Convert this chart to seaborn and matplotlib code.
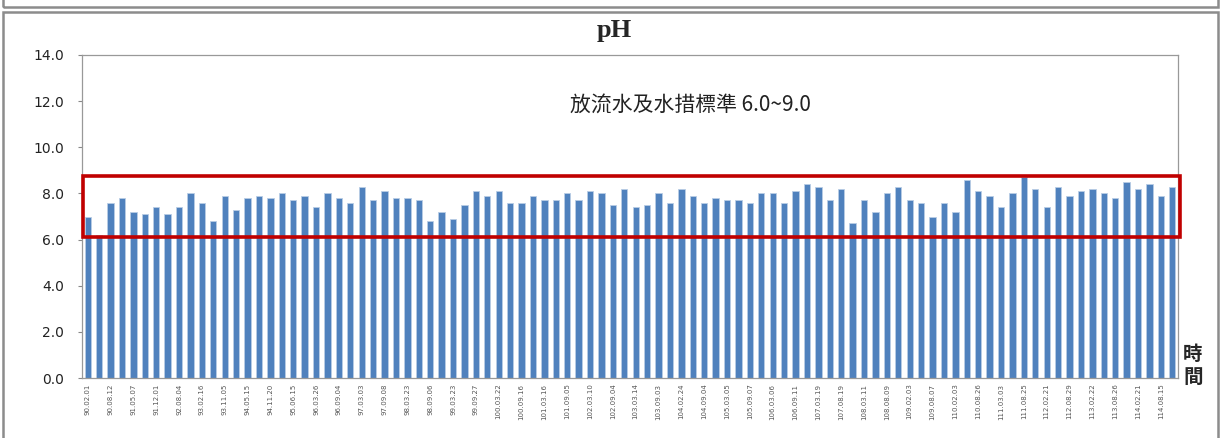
import numpy as np
import pandas as pd
import matplotlib
matplotlib.use('Agg')
import matplotlib.pyplot as plt
from matplotlib.patches import Rectangle
import matplotlib.transforms as mtransforms
import seaborn as sns

# pH per sampling, 96 samplings (every other one labelled)
ph_values = [7.0, 6.2, 7.6, 7.8, 7.2, 7.1, 7.4, 7.1, 7.4, 8.0,
             7.6, 6.8, 7.9, 7.3, 7.8, 7.9, 7.8, 8.0, 7.7, 7.9,
             7.4, 8.0, 7.8, 7.6, 8.3, 7.7, 8.1, 7.8, 7.8, 7.7,
             6.8, 7.2, 6.9, 7.5, 8.1, 7.9, 8.1, 7.6, 7.6, 7.9,
             7.7, 7.7, 8.0, 7.7, 8.1, 8.0, 7.5, 8.2, 7.4, 7.5,
             8.0, 7.6, 8.2, 7.9, 7.6, 7.8, 7.7, 7.7, 7.6, 8.0,
             8.0, 7.6, 8.1, 8.4, 8.3, 7.7, 8.2, 6.7, 7.7, 7.2,
             8.0, 8.3, 7.7, 7.6, 7.0, 7.6, 7.2, 8.6, 8.1, 7.9,
             7.4, 8.0, 8.7, 8.2, 7.4, 8.3, 7.9, 8.1, 8.2, 8.0,
             7.8, 8.5, 8.2, 8.4, 7.9, 8.3]

tick_labels = ['90.02.01', '90.08.12', '91.05.07', '91.12.01', '92.08.04', '93.02.16',
               '93.11.05', '94.05.15', '94.11.20', '95.06.15', '96.03.26', '96.09.04',
               '97.03.03', '97.09.08', '98.03.23', '98.09.06', '99.03.23', '99.09.27',
               '100.03.22', '100.09.16', '101.03.16', '101.09.05', '102.03.10', '102.09.04',
               '103.03.14', '103.09.03', '104.02.24', '104.09.04', '105.03.05', '105.09.07',
               '106.03.06', '106.09.11', '107.03.19', '107.08.19', '108.03.11', '108.08.09',
               '109.02.03', '109.08.07', '110.02.03', '110.08.26', '111.03.03', '111.08.25',
               '112.02.21', '112.08.29', '113.02.22', '113.08.26', '114.02.21', '114.08.15']

std_low, std_high = 6.1, 8.75

df = pd.DataFrame({'idx': np.arange(len(ph_values)), 'pH': ph_values})

sns.set_style('white')
plt.rcParams['font.family'] = ['DejaVu Sans']

fig = plt.figure(figsize=(12.21, 4.38), dpi=100)
ax = fig.add_axes([82 / 1221, 60 / 438, 1096 / 1221, 323 / 438])

sns.barplot(data=df, x='idx', y='pH', color='#4F81BD', width=0.55,
            edgecolor='#B9CDE5', linewidth=0.6, saturation=1, ax=ax)

ax.set_xlim(-0.5, len(ph_values) - 0.5)
ax.set_ylim(0, 14)
ax.set_yticks(np.arange(0, 14.1, 2))
ax.set_yticklabels([f'{v:.1f}' for v in np.arange(0, 14.1, 2)], fontsize=10, color='#222222')
ax.set_xticks(np.arange(0, len(ph_values), 2))
ax.set_xticklabels(tick_labels, rotation=90, fontsize=5, color='#555555')
ax.tick_params(axis='x', length=0, pad=4)
ax.tick_params(axis='y', length=3, width=0.8, color='#888888', pad=10, left=True)
ax.set_xlabel('')
ax.set_ylabel('')
for s in ax.spines.values():
    s.set_color('#999999')
    s.set_linewidth(0.9)

# standard range box
trans = mtransforms.blended_transform_factory(ax.transAxes, ax.transData)
ax.add_patch(Rectangle((0.001, std_low), 1.001, std_high - std_low, transform=trans,
                       fill=False, edgecolor='#C00000', linewidth=2.6, clip_on=False, zorder=5))

ax.text(0.555, 11.8, '放流水及水措標準 6.0~9.0', transform=trans, ha='center', va='center',
        fontsize=15, family=['Noto Sans CJK TC', 'DejaVu Sans'], color='#222222')

fig.text(614 / 1221, 1 - 31 / 438, 'pH', ha='center', va='center', fontsize=19,
         fontweight='bold', family=['Liberation Serif'])
fig.text(1193 / 1221, 1 - 366 / 438, '時\n間', ha='center', va='center', fontsize=14,
         fontweight='bold', family=['Noto Sans CJK TC'], linespacing=1.3)

# outer frames
fig.patches.append(Rectangle((3 / 1221, -0.02), 1215 / 1221, (438 - 12) / 438 + 0.02,
                             transform=fig.transFigure, fill=False, edgecolor='#8C8C8C', linewidth=1.8))
fig.patches.append(Rectangle((3 / 1221, 1 - 7 / 438), 1215 / 1221, 0.05,
                             transform=fig.transFigure, fill=False, edgecolor='#8C8C8C', linewidth=1.8))

fig.savefig('out.png', dpi=100)
